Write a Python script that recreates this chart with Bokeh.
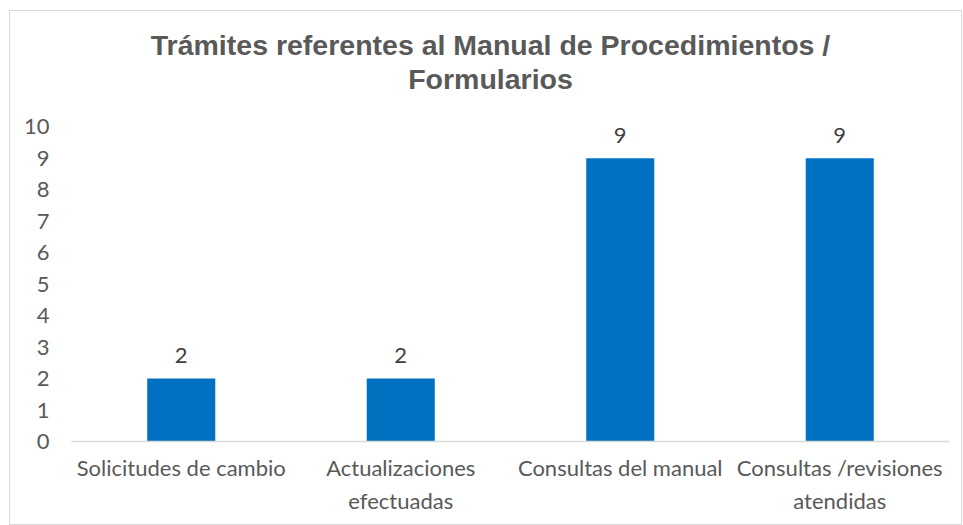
from bokeh.plotting import figure
from bokeh.models import ColumnDataSource, FixedTicker, Label, CategoricalAxis, FactorRange
from bokeh.core.properties import value
from bokeh.embed import file_html
from bokeh.resources import INLINE

categories = ["Solicitudes de cambio", "Actualizaciones efectuadas",
              "Consultas del manual", "Consultas /revisiones atendidas"]
label_line1 = ["Solicitudes de cambio", "Actualizaciones",
               "Consultas del manual", "Consultas /revisiones"]
label_line2 = [" ", "efectuadas", "  ", "atendidas"]
values = [2, 2, 9, 9]
y_ticks = [0, 1, 2, 3, 4, 5, 6, 7, 8, 9, 10]
title_lines = ["Trámites referentes al Manual de Procedimientos /", "Formularios"]

TXT = "#595959"
FONT = "Lato"
FS = "22px"

src = ColumnDataSource(dict(cat=categories, val=values, lab=[str(v) for v in values]))

# frame spans from just under the top border to the category axis; the
# value axis only ticks 0..10, the space above holds the title
p = figure(x_range=categories, y_range=(0, 13.5), width=953, height=515,
           output_backend="svg", toolbar_location=None,
           min_border_left=61, min_border_right=14, min_border_top=5,
           min_border_bottom=85)
p.styles = {"border": "1px solid #d9d9d9", "margin-left": "9px", "margin-top": "10px"}
p.outline_line_color = None
p.grid.grid_line_color = None
p.background_fill_color = "white"
p.border_fill_color = "white"

p.vbar(x="cat", top="val", width=0.31, source=src, fill_color="#0070C0",
       line_color=None)
p.text(x="cat", y="val", text="lab", source=src, text_align="center",
       text_baseline="alphabetic", y_offset=-23, text_font=value(FONT),
       text_font_size=FS, text_color="#404040")

p.yaxis.ticker = FixedTicker(ticks=y_ticks)
p.yaxis.axis_line_color = None
p.yaxis.major_tick_line_color = None
p.yaxis.minor_tick_line_color = None
p.yaxis.major_label_standoff = 16
p.yaxis.major_label_text_font = FONT
p.yaxis.major_label_text_font_size = FS
p.yaxis.major_label_text_color = TXT

p.xaxis.visible = False
p.extra_x_ranges = {"l1": FactorRange(factors=label_line1),
                    "l2": FactorRange(factors=label_line2)}

ax1 = CategoricalAxis(x_range_name="l1", axis_line_color="#d9d9d9", axis_line_width=1.5,
                      major_tick_line_color=None, minor_tick_line_color=None,
                      major_label_standoff=6, major_label_text_font=FONT,
                      major_label_text_font_size=FS, major_label_text_color=TXT)
ax2 = CategoricalAxis(x_range_name="l2", axis_line_color=None,
                      major_tick_line_color=None, minor_tick_line_color=None,
                      major_label_standoff=-3, major_label_text_font=FONT,
                      major_label_text_font_size=FS, major_label_text_color=TXT)
p.add_layout(ax1, "below")
p.add_layout(ax2, "below")

p.title = None
for t, ty in zip(title_lines, [12.58, 11.53]):
    p.add_layout(Label(x=419, x_units="screen", y=ty, text=t,
                       text_align="center", text_baseline="middle",
                       text_font="Liberation Sans", text_font_style="bold",
                       text_font_size="28.5px", text_color=TXT))

open("out.html", "w").write(file_html(p, INLINE))
